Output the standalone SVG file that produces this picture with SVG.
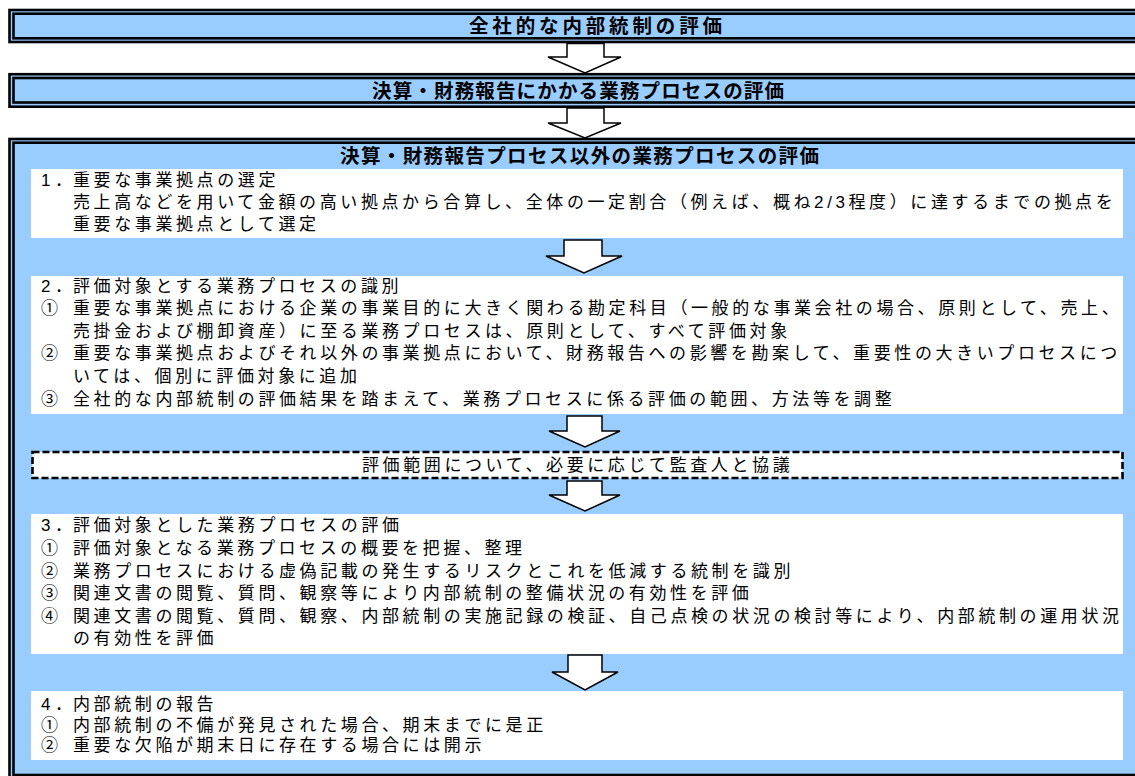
<svg xmlns="http://www.w3.org/2000/svg" width="1135" height="776" viewBox="0 0 1135 776">
<style>
.fo{fill:#99CCFF;stroke:#000;stroke-width:2.6}
.fi{fill:none;stroke:#000;stroke-width:2.6}
.panel{fill:#fff}
.t{font-family:'Liberation Sans','Noto Sans CJK JP',sans-serif;font-size:17px;letter-spacing:3.6px;fill:#000}
.p{letter-spacing:0}
.h{font-family:'Liberation Sans','Noto Sans CJK JP',sans-serif;font-size:19.5px;font-weight:bold;fill:#000}
.arrow{fill:#fff;stroke:#000;stroke-width:1.5;stroke-linejoin:miter}
.dash{fill:#fff;stroke:#000;stroke-width:2.6;stroke-dasharray:7 3}
</style>
<rect width="1135" height="776" fill="#fff"/>
<g id="box-zensha">
<rect class="fo" x="9.5" y="10" width="1140" height="32"/>
<rect class="fi" x="13.5" y="13.7" width="1130" height="24.6"/>
<text class="h" x="469" y="33" textLength="253" lengthAdjust="spacing">全社的な内部統制の評価</text>
</g>
<g id="box-kessan">
<rect class="fo" x="9.5" y="74.2" width="1140" height="32.5"/>
<rect class="fi" x="13.5" y="78" width="1130" height="24.5"/>
<text class="h" x="372" y="98" textLength="412" lengthAdjust="spacing">決算・財務報告にかかる業務プロセスの評価</text>
</g>
<g id="box-other">
<rect class="fo" x="9.5" y="139" width="1140" height="650"/>
<rect class="fi" x="13.5" y="142.7" width="1130" height="632.3"/>
<text class="h" x="340" y="163" textLength="479" lengthAdjust="spacing">決算・財務報告プロセス以外の業務プロセスの評価</text>
</g>
<g id="step1">
<rect class="panel" x="31" y="169" width="1092" height="69"/>
<text class="t" x="41" y="186">1<tspan class="p" x="55">．</tspan><tspan x="73">重要な事業拠点の選定</tspan></text>
<text class="t" x="73" y="208">売上高などを用いて金額の高い拠点から合算し、全体の一定割合（例えば、概ね2/3程度）に達するまでの拠点を</text>
<text class="t" x="73" y="230">重要な事業拠点として選定</text>
</g>
<g id="step2">
<rect class="panel" x="31" y="276" width="1092" height="138"/>
<text class="t" x="41" y="292">2<tspan class="p" x="55">．</tspan><tspan x="73">評価対象とする業務プロセスの識別</tspan></text>
<text class="t" x="41" y="314">①<tspan x="73">重要な事業拠点における企業の事業目的に大きく関わる勘定科目（一般的な事業会社の場合、原則として、売上、</tspan></text>
<text class="t" x="73" y="337">売掛金および棚卸資産）に至る業務プロセスは、原則として、すべて評価対象</text>
<text class="t" x="41" y="359">②<tspan x="73">重要な事業拠点およびそれ以外の事業拠点において、財務報告への影響を勘案して、重要性の大きいプロセスにつ</tspan></text>
<text class="t" x="73" y="382">いては、個別に評価対象に追加</text>
<text class="t" x="41" y="405">③<tspan x="73">全社的な内部統制の評価結果を踏まえて、業務プロセスに係る評価の範囲、方法等を調整</tspan></text>
</g>
<g id="consult">
<rect class="dash" x="32.5" y="452" width="1090" height="26"/>
<text class="t" x="362" y="471">評価範囲について、必要に応じて監査人と協議</text>
</g>
<g id="step3">
<rect class="panel" x="31" y="514" width="1092" height="140"/>
<text class="t" x="41" y="531">3<tspan class="p" x="55">．</tspan><tspan x="73">評価対象とした業務プロセスの評価</tspan></text>
<text class="t" x="41" y="554">①<tspan x="73">評価対象となる業務プロセスの概要を把握、整理</tspan></text>
<text class="t" x="41" y="577">②<tspan x="73">業務プロセスにおける虚偽記載の発生するリスクとこれを低減する統制を識別</tspan></text>
<text class="t" x="41" y="599">③<tspan x="73">関連文書の閲覧、質問、観察等により内部統制の整備状況の有効性を評価</tspan></text>
<text class="t" x="41" y="622">④<tspan x="73">関連文書の閲覧、質問、観察、内部統制の実施記録の検証、自己点検の状況の検討等により、内部統制の運用状況</tspan></text>
<text class="t" x="73" y="644">の有効性を評価</text>
</g>
<g id="step4">
<rect class="panel" x="31" y="691" width="1092" height="69"/>
<text class="t" x="41" y="710">4<tspan class="p" x="55">．</tspan><tspan x="73">内部統制の報告</tspan></text>
<text class="t" x="41" y="731">①<tspan x="73">内部統制の不備が発見された場合、期末までに是正</tspan></text>
<text class="t" x="41" y="751">②<tspan x="73">重要な欠陥が期末日に存在する場合には開示</tspan></text>
</g>
<g id="connectors">
<polygon class="arrow" points="567,43.5 604,43.5 604,57 621,57 585,73 548,57 567,57"/>
<polygon class="arrow" points="567,108 604,108 604,123 621,123 585,138 548,123 567,123"/>
<polygon class="arrow" points="564,240 602,240 602,256 622,256 584,273 546,256 564,256"/>
<polygon class="arrow" points="567,416 602,416 602,431 620,431 585,447 549,431 567,431"/>
<polygon class="arrow" points="567,481 602,481 602,495 620,495 585,511 549,495 567,495"/>
<polygon class="arrow" points="568,655 602,655 602,672 618,672 585,690 552,672 568,672"/>
</g>
</svg>
